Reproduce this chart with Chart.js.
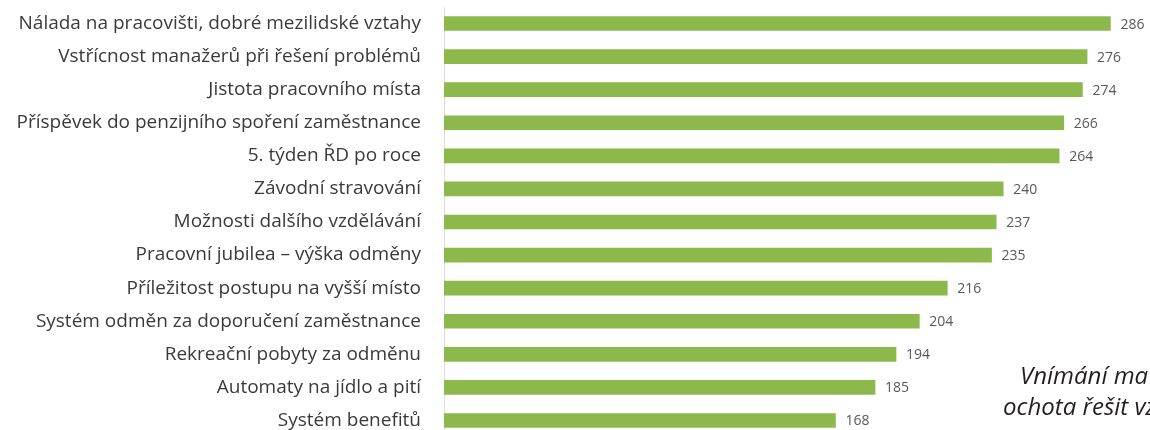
<!DOCTYPE html>
<html>
<head>
<meta charset="utf-8">
<script src="https://cdn.jsdelivr.net/npm/chart.js@4.4.1/dist/chart.umd.min.js"></script>
<style>
  html, body { margin: 0; padding: 0; background: #fff; overflow: hidden; }
  #wrap { width: 1150px; height: 440px; }
</style>
</head>
<body>
<div id="wrap"><canvas id="chart" width="1150" height="440"></canvas></div>
<script>
// categories, top to bottom
const categories = [
  "Nálada na pracovišti, dobré mezilidské vztahy",
  "Vstřícnost manažerů při řešení problémů",
  "Jistota pracovního místa",
  "Příspěvek do penzijního spoření zaměstnance",
  "5. týden ŘD po roce",
  "Závodní stravování",
  "Možnosti dalšího vzdělávání",
  "Pracovní jubilea – výška odměny",
  "Příležitost postupu na vyšší místo",
  "Systém odměn za doporučení zaměstnance",
  "Rekreační pobyty za odměnu",
  "Automaty na jídlo a pití",
  "Systém benefitů"
];
const values = [286, 276, 274, 266, 264, 240, 237, 235, 216, 204, 194, 185, 168];

// cut-off caption in the bottom right corner
const noteLines = ["Vnímání ma", "ochota řešit vz"];

// value labels at the end of each bar
const valueLabels = {
  id: "valueLabels",
  afterDatasetsDraw(chart) {
    const ctx = chart.ctx;
    const meta = chart.getDatasetMeta(0);
    ctx.save();
    ctx.font = "14px 'Open Sans'";
    ctx.fillStyle = "#595959";
    ctx.textAlign = "left";
    ctx.textBaseline = "middle";
    meta.data.forEach((bar, i) => {
      ctx.fillText(String(values[i]), bar.x + 10, bar.y + 1);
    });
    ctx.restore();
  }
};

// italic caption
const caption = {
  id: "caption",
  afterDraw(chart) {
    const ctx = chart.ctx;
    ctx.save();
    ctx.font = "italic 24px 'Open Sans'";
    ctx.fillStyle = "#231f20";
    ctx.textAlign = "left";
    ctx.textBaseline = "alphabetic";
    ctx.fillText(noteLines[0], 1020, 384);
    ctx.fillText(noteLines[1], 1003, 415);
    ctx.restore();
  }
};

new Chart(document.getElementById("chart"), {
  type: "bar",
  data: {
    labels: categories,
    datasets: [{
      data: values,
      backgroundColor: "#8db84c",
      borderWidth: 0,
      barThickness: 14
    }]
  },
  options: {
    indexAxis: "y",
    responsive: false,
    animation: false,
    layout: { padding: { top: 7, bottom: 3, left: 0, right: 0 } },
    plugins: {
      legend: { display: false },
      tooltip: { enabled: false }
    },
    scales: {
      x: {
        display: false,
        min: 0,
        max: 303
      },
      y: {
        afterFit(scale) {
          scale.width = 444;
          scale.paddingTop = 0;
          scale.paddingBottom = 0;
        },
        grid: { display: false, drawTicks: false },
        border: { display: true, color: "#dcdcdc", width: 1 },
        ticks: {
          padding: 23,
          color: "#3a3a3a",
          font: { family: "Open Sans", size: 19 }
        }
      }
    }
  },
  plugins: [valueLabels, caption]
});
</script>
</body>
</html>
